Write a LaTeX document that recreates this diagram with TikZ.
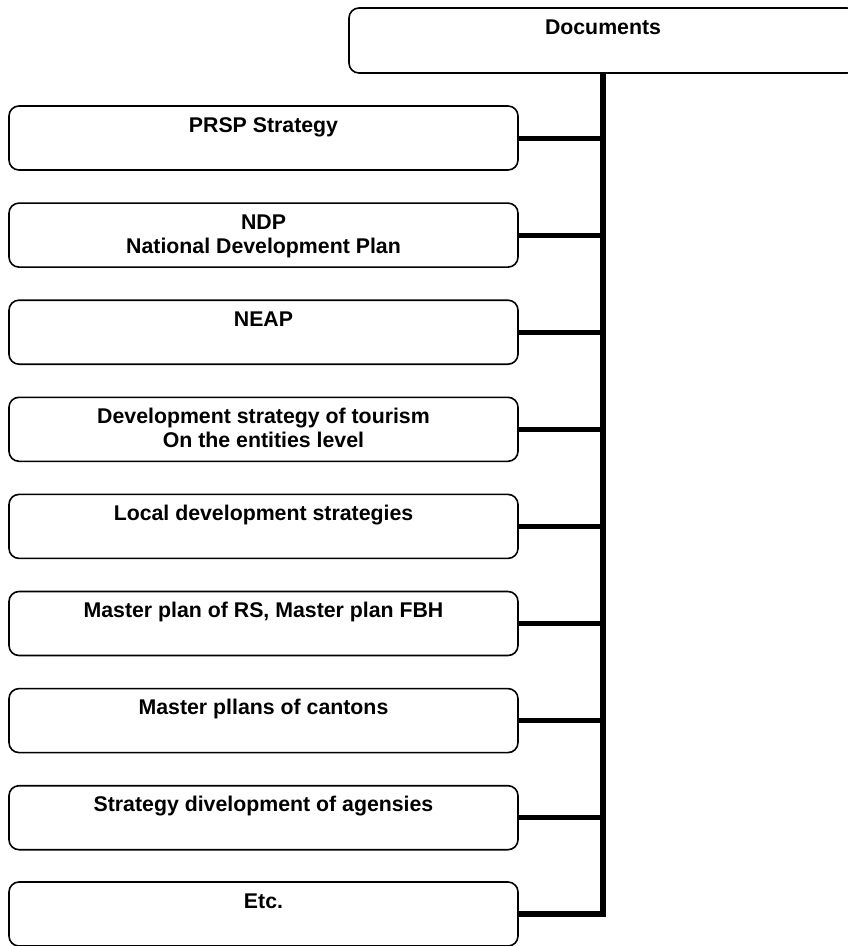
\documentclass[tikz,border=0pt]{standalone}
\usepackage{fontspec}
\setmainfont{Liberation Sans}
\newcommand{\btext}[2][64pt]{\parbox[c][#1][t]{500pt}{\centering\fontsize{21.3}{24}\selectfont\bfseries\rule{0pt}{26pt}#2}}
\begin{document}
\begin{tikzpicture}[x=1pt,y=-1pt,
  docbox/.style={draw, rounded corners=10pt, line width=1.6pt, minimum width=509pt, minimum height=64pt, inner sep=0pt, fill=white},
  conn/.style={line width=5pt},
  bar/.style={line width=6pt, line join=miter}]
\useasboundingbox (0,0) rectangle (848,946);
\clip (0,0) rectangle (848,946);
\node[docbox, minimum height=65pt, minimum width=508pt] (docs) at (603,40.5) {\btext[65pt]{Documents}};
\node[docbox] (b1) at (263.5,138) {\btext{PRSP Strategy}};
\node[docbox] (b2) at (263.5,235.1) {\btext{NDP\\National Development Plan}};
\node[docbox] (b3) at (263.5,332.2) {\btext{NEAP}};
\node[docbox] (b4) at (263.5,429.3) {\btext{Development strategy of tourism\\On the entities level}};
\node[docbox] (b5) at (263.5,526.4) {\btext{Local development strategies}};
\node[docbox] (b6) at (263.5,623.5) {\btext{Master plan of RS, Master plan FBH}};
\node[docbox] (b7) at (263.5,720.6) {\btext{Master pllans of cantons}};
\node[docbox] (b8) at (263.5,817.7) {\btext{Strategy divelopment of agensies}};
\node[docbox] (b9) at (263.5,914) {\btext{Etc.}};
\foreach \i in {1,...,8} {
  \draw[conn] (b\i.east) -- (b\i.east -| docs.south);
}
\draw[bar] (docs.south) -- (docs.south |- b9.east) -- (b9.east);
\end{tikzpicture}
\end{document}
